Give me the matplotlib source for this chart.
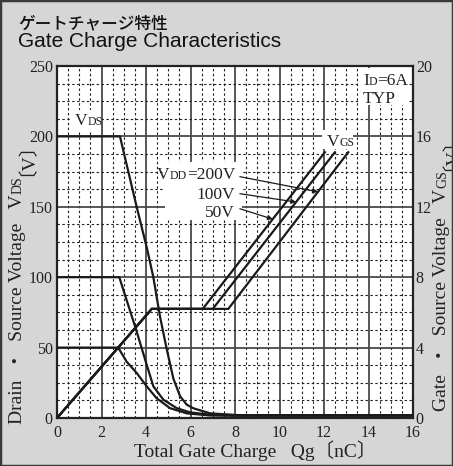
import numpy as np
import matplotlib
matplotlib.use('Agg')
import matplotlib.pyplot as plt
from matplotlib.patches import Rectangle

SERIF = ['Liberation Serif', 'Noto Sans CJK JP']

# ---------------- data ----------------
q_ticks = [0, 2, 4, 6, 8, 10, 12, 14, 16]
vds_ticks = [0, 50, 100, 150, 200, 250]
vgs_ticks = [0, 4, 8, 12, 16, 20]

# Drain-source voltage curves (left axis, V) vs total gate charge (nC)
vds200_q = [0, 2.83, 3.58, 4.05, 4.33, 4.63, 4.93, 5.23, 5.53, 5.83, 6.13, 6.88, 8.2, 16]
vds200_v = [200, 200, 150, 120, 100, 72, 49, 28, 15.5, 9.5, 6.9, 3.3, 2.0, 2.0]
vds100_q = [0, 2.8, 3.55, 3.96, 4.33, 4.78, 5.38, 5.98, 6.88, 8.0, 16]
vds100_v = [100, 100, 63, 41.5, 22.5, 13, 7, 4, 2.3, 1.8, 1.8]
vds50_q = [0, 2.75, 3.13, 3.58, 4.03, 4.48, 5.08, 5.83, 6.88, 8.0, 16]
vds50_v = [50, 50, 40, 32, 22.5, 14, 7, 3.3, 1.8, 1.6, 1.6]

# Gate-source voltage curves (right axis, V)
vgs50_q = [0, 4.26, 6.55, 12.04]
vgs50_v = [0, 6.2, 6.2, 15.1]
vgs100_q = [0, 4.26, 7.0, 12.49]
vgs100_v = [0, 6.2, 6.2, 15.1]
vgs200_q = [0, 4.26, 7.7, 13.09]
vgs200_v = [0, 6.2, 6.2, 15.1]

# ---------------- figure ----------------
W, H = 453, 466
fig = plt.figure(figsize=(W / 100, H / 100), dpi=100, facecolor='#d6d6d6')
fig.patches.append(Rectangle((0, 0), 1, 1, transform=fig.transFigure, fill=False,
                             ec='#3a3a3a', lw=2.5, zorder=10))

ax = fig.add_axes([57 / W, 48 / H, 356 / W, 352 / H])
ax.set_facecolor('white')
ax.set_xlim(0, 16)
ax.set_ylim(0, 250)
ax.set_xticks(q_ticks)
ax.set_yticks(vds_ticks)
ax.set_xticks(np.arange(0, 16.01, 0.5), minor=True)
ax.set_yticks(np.arange(0, 250.01, 12.5), minor=True)
ax.grid(which='major', color='#4a4a4a', lw=1.3, ls='-', zorder=0.5)
ax.grid(which='minor', color='#222222', lw=0.8, ls=(0, (2.2, 2.2)), zorder=0.4)
ax.set_axisbelow(True)
ax.tick_params(which='both', length=0)
ax.tick_params(axis='x', pad=5)
ax.tick_params(axis='y', pad=3)
TICK_FS = 11.5
for lab in ax.get_xticklabels() + ax.get_yticklabels():
    lab.set_fontfamily(SERIF)
    lab.set_fontsize(TICK_FS)
    lab.set_color('#222222')
for s in ax.spines.values():
    s.set_linewidth(1.6)
    s.set_color('#222222')

ax2 = ax.twinx()
ax2.set_ylim(0, 20)
ax2.set_yticks(vgs_ticks)
ax2.tick_params(length=0, pad=2)
for lab in ax2.get_yticklabels():
    lab.set_fontfamily(SERIF)
    lab.set_fontsize(TICK_FS)
    lab.set_color('#222222')
for s in ax2.spines.values():
    s.set_visible(False)

# white label boxes (behind text, above grid)
for (x0, x1, y0, y1) in [(0.67, 1.93, 204, 218.6), (11.9, 13.3, 191.4, 204.3),
                         (13.53, 15.78, 222, 248.6), (4.85, 8.31, 140.7, 182)]:
    ax.add_patch(Rectangle((x0, y0), x1 - x0, y1 - y0, fc='white', ec='none', zorder=1))

lc = '#1a1a1a'
for qq, vv in [(vds200_q, vds200_v), (vds100_q, vds100_v), (vds50_q, vds50_v)]:
    ax.plot(qq, vv, color=lc, lw=1.6, zorder=3, solid_joinstyle='round')
for qq, vv in [(vgs50_q, vgs50_v), (vgs100_q, vgs100_v), (vgs200_q, vgs200_v)]:
    ax2.plot(qq, vv, color=lc, lw=1.6, zorder=3, solid_joinstyle='miter')

# arrows from VDD labels to Vgs lines
for (qq, vv, tip_vgs, tail) in [(vgs200_q, vgs200_v, 12.85, (8.22, 171.4)),
                                (vgs100_q, vgs100_v, 12.27, (8.22, 159.3)),
                                (vgs50_q, vgs50_v, 11.3, (8.22, 148.6))]:
    tip_q = np.interp(tip_vgs, vv[2:], qq[2:])
    ax.annotate('', xy=(tip_q, tip_vgs * 12.5), xytext=tail,
                arrowprops=dict(arrowstyle='-|>', lw=0.9, color=lc,
                                mutation_scale=7, shrinkA=0, shrinkB=0), zorder=4)

# ---------------- rich text helper ----------------
renderer = fig.canvas.get_renderer()


def rich(xd, yd, pieces, rotation=0, ha='left', color='#222222'):
    """xd, yd in display pixels (from bottom-left)."""
    widths = []
    for s, fs in pieces:
        t = fig.text(0, 0, s, fontsize=fs, family=SERIF)
        widths.append(t.get_window_extent(renderer).width)
        t.remove()
    total = sum(widths)
    off = {'left': 0, 'center': -total / 2, 'right': -total}[ha]
    for (s, fs), w in zip(pieces, widths):
        if rotation == 0:
            px, py = xd + off, yd
        else:
            px, py = xd, yd + off
        fig.text(px / W, py / H, s, fontsize=fs, family=SERIF, rotation=rotation,
                 rotation_mode='anchor', ha='left', va='baseline', color=color, zorder=5)
        off += w


def dpt(q, v):
    return ax.transData.transform((q, v))


BIG, SMALL = 12.5, 8.5
rich(*dpt(0.81, 208), [('V', BIG), ('DS', SMALL)])
rich(*dpt(12.13, 193), [('V', BIG), ('GS', SMALL)])
rich(*dpt(13.75, 236.6), [('I', BIG), ('D', SMALL), ('=6A', BIG)])
rich(*dpt(13.75, 223.6), [('TYP', BIG)])
rich(*dpt(8.0, 169.5), [('V', BIG), ('DD', SMALL), ('=200V', BIG)], ha='right')
rich(*dpt(8.0, 155.7), [('100V', BIG)], ha='right')
rich(*dpt(8.0, 142.6), [('50V', BIG)], ha='right')

# axis labels
LAB_FS, LAB_SUB = 14, 10
rich(255, H - 457, [('Total Gate Charge\u2002 Qg〔nC〕', LAB_FS)], ha='center')
rich(22, H - 273.5, [('Drain\u2002・\u2002Source Voltage\u2002 V', LAB_FS), ('DS', LAB_SUB),
                     ('〔V〕', LAB_FS)], rotation=90, ha='center')
rich(446, H - 264, [('Gate\u2002・\u2002Source Voltage\u2002 V', LAB_FS), ('GS', LAB_SUB),
                    ('〔V〕', LAB_FS)], rotation=90, ha='center')

# titles
fig.text(18 / W, 1 - 28 / H, 'ゲートチャージ特性', family=['Noto Sans CJK JP'],
         fontsize=12, fontweight='medium', color='#111111', va='baseline', ha='left')
fig.text(18 / W, 1 - 47 / H, 'Gate Charge Characteristics', family=['Liberation Sans'],
         fontsize=15, color='#111111', va='baseline', ha='left')

fig.savefig('out.png', dpi=100, facecolor=fig.get_facecolor())
